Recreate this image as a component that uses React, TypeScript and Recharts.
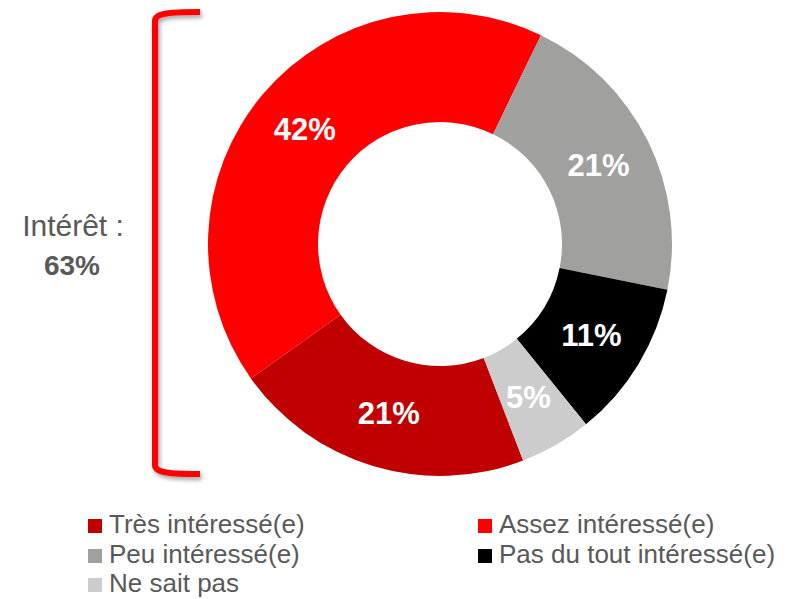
import { PieChart, Pie, Cell, Legend } from 'recharts';

const categories = ['Très intéressé(e)', 'Assez intéressé(e)', 'Peu intéressé(e)', 'Pas du tout intéressé(e)', 'Ne sait pas'];
const values = [21, 42, 21, 11, 5];
const colors = ['#C00000', '#FF0000', '#A0A09E', '#000000', '#CCCCCC'];
// legend is laid out in two columns, row by row
const legendOrder = [0, 1, 2, 3, 4];

const data = categories.map((name, i) => ({ name, value: values[i], color: colors[i] }));

const RADIAN = Math.PI / 180;
const FONT = 'Arial, "Liberation Sans", sans-serif';

const renderLabel = (props: any) => {
  const { cx, cy, midAngle, innerRadius, outerRadius, value } = props;
  const r = (innerRadius + outerRadius) / 2;
  const x = cx + r * Math.cos(-midAngle * RADIAN);
  const y = cy + r * Math.sin(-midAngle * RADIAN);
  return (
    <text x={x} y={y} fill="#fff" textAnchor="middle" dominantBaseline="central"
      fontSize={31} fontWeight="bold" fontFamily={FONT}>
      {value}%
    </text>
  );
};

const renderLegend = () => (
  <div style={{ display: 'grid', gridTemplateColumns: '390px 306px', paddingLeft: 88, fontFamily: FONT, fontSize: 26, lineHeight: '29.5px', color: '#595959', textAlign: 'left' }}>
    {legendOrder.map((i) => (
      <div key={i} style={{ height: 29.5, whiteSpace: 'nowrap' }}>
        <span style={{ width: 14, height: 14, background: colors[i], marginRight: 7, display: 'inline-block' }} />
        <span>{categories[i]}</span>
      </div>
    ))}
  </div>
);

export default function App() {
  return (
    <div style={{ position: 'absolute', left: 0, top: 0, width: 796, height: 599, background: '#fff' }}>
      <svg width={796} height={599} style={{ position: 'absolute', left: 0, top: 0 }}>
        <defs>
          <filter id="sh" x="-50%" y="-5%" width="200%" height="110%">
            <feGaussianBlur in="SourceAlpha" stdDeviation="2" />
            <feOffset dx="2" dy="3" result="b" />
            <feComponentTransfer><feFuncA type="linear" slope="0.35" /></feComponentTransfer>
            <feMerge><feMergeNode /><feMergeNode in="SourceGraphic" /></feMerge>
          </filter>
        </defs>
        <path d="M200,12 C170,12 155,13 155,21 L155,465 C155,473 170,474 200,474"
          fill="none" stroke="#FF0000" strokeWidth={6} filter="url(#sh)" />
        <text x={73} y={236} textAnchor="middle" fontSize={30} fill="#595959" fontFamily={FONT}>Intérêt :</text>
        <text x={72} y={275} textAnchor="middle" fontSize={28} fontWeight="bold" fill="#595959" fontFamily={FONT}>63%</text>
      </svg>
      <div style={{ position: 'absolute', left: 0, top: 0 }}>
        <PieChart width={796} height={599} margin={{ top: 0, right: 0, bottom: 0, left: 0 }}>
          <Pie data={data} dataKey="value" nameKey="name" cx={440} cy={244}
            innerRadius={122} outerRadius={232} startAngle={-69} endAngle={-429}
            stroke="none" label={renderLabel} labelLine={false} isAnimationActive={false}>
            {data.map((d) => <Cell key={d.name} fill={d.color} />)}
          </Pie>
          <Legend content={renderLegend} wrapperStyle={{ position: 'absolute', left: 0, top: 510, width: 796 }} />
        </PieChart>
      </div>
    </div>
  );
}
